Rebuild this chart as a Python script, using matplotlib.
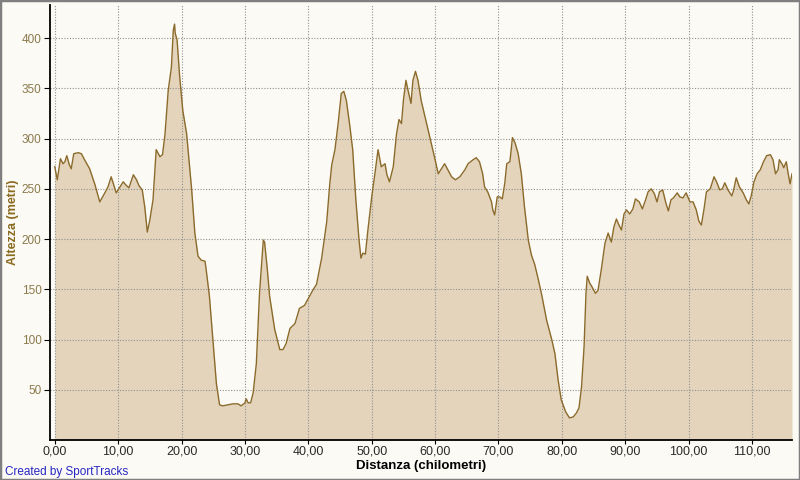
import matplotlib.pyplot as plt
from matplotlib.patches import Rectangle

# %% Data
distance_km = [
    0.0, 0.4, 0.9, 1.3, 1.6, 1.9, 2.3, 2.6, 3.0, 3.7, 4.2, 4.7, 5.5, 6.3, 7.1, 7.9,
    8.4, 8.9, 9.3, 9.7, 10.3, 10.8, 11.2, 11.7, 12.4, 12.9, 13.3, 13.8, 14.2, 14.6,
    15.0, 15.5, 16.0, 16.6, 17.0, 17.4, 17.9, 18.4, 18.7, 18.9, 19.0, 19.3, 19.7,
    20.2, 20.8, 21.3, 21.6, 22.1, 22.6, 23.1, 23.7, 23.9, 24.4, 25.0, 25.5, 26.0,
    26.5, 27.3, 28.1, 28.9, 29.4, 30.0, 30.2, 30.5, 30.9, 31.3, 31.8, 32.3, 32.9,
    33.1, 33.5, 33.9, 34.7, 35.5, 36.0, 36.5, 37.1, 37.9, 38.6, 39.4, 40.0, 40.7,
    41.3, 42.1, 42.9, 43.4, 43.7, 44.2, 44.7, 45.2, 45.6, 46.0, 46.5, 47.0, 47.5,
    48.0, 48.3, 48.6, 49.0, 49.4, 50.0, 50.5, 51.0, 51.5, 52.1, 52.4, 52.8, 53.4,
    53.9, 54.3, 54.7, 55.0, 55.4, 55.7, 56.2, 56.5, 56.9, 57.3, 57.8, 58.4, 58.9,
    59.4, 60.0, 60.5, 61.0, 61.5, 62.0, 62.6, 63.2, 63.9, 64.7, 65.2, 66.0, 66.5,
    67.0, 67.5, 67.8, 68.3, 68.9, 69.1, 69.4, 69.8, 70.2, 70.6, 71.0, 71.3, 71.8,
    72.2, 72.6, 73.1, 73.6, 74.1, 74.7, 75.2, 75.7, 76.2, 76.8, 77.6, 78.4, 78.9,
    79.4, 79.9, 80.6, 81.2, 81.8, 82.3, 82.7, 83.1, 83.5, 83.8, 84.0, 84.4, 84.7,
    85.3, 85.7, 86.2, 86.8, 87.3, 87.8, 88.2, 88.6, 89.0, 89.4, 89.8, 90.2, 90.7,
    91.2, 91.6, 92.2, 92.7, 93.2, 93.6, 94.1, 94.6, 95.0, 95.4, 95.9, 96.4, 96.8,
    97.2, 97.6, 98.2, 98.6, 99.1, 99.6, 100.2, 100.7, 101.2, 101.6, 102.0, 102.4,
    102.8, 103.4, 104.0, 104.4, 104.9, 105.3, 105.7, 106.2, 106.8, 107.1, 107.5,
    108.0, 108.6, 109.1, 109.5, 109.9, 110.3, 110.8, 111.3, 111.8, 112.3, 112.9,
    113.3, 113.7, 114.1, 114.3, 114.8, 115.0, 115.4, 115.7, 116.0, 116.3,
]
altitude_m = [
    272, 259, 280, 275, 277, 283, 274, 270, 285, 286, 285, 279, 270, 255, 237, 246,
    252, 262, 254, 246, 252, 257, 254, 251, 264, 259, 253, 249, 232, 207,
    219, 239, 289, 282, 284, 305, 348, 371, 408, 414, 405, 398, 362,
    328, 305, 270, 249, 206, 183, 179, 178, 169, 143, 96, 56, 35,
    34, 35, 36, 36, 34, 37, 41, 37, 37, 47, 76, 146, 199,
    197, 172, 143, 110, 90, 90, 96, 111, 116, 131, 134, 141, 149,
    155, 181, 217, 256, 274, 289, 315, 345, 347, 338, 315, 289, 239,
    199, 181, 186, 185, 209, 242, 265, 289, 272, 275, 264, 257, 272,
    304, 319, 315, 338, 358, 349, 335, 358, 367, 358, 338, 322, 309,
    295, 279, 265, 270, 275, 269, 262, 259, 262, 269, 275, 279, 281,
    277, 265, 252, 247, 237, 229, 224, 242, 242, 240, 256, 275, 277,
    301, 296, 285, 265, 232, 199, 184, 175, 162, 145, 119, 100, 86,
    60, 40, 28, 22, 23, 27, 32, 53, 93, 146, 163, 156, 153,
    146, 149, 169, 196, 206, 197, 212, 220, 214, 209, 225, 229, 225,
    230, 240, 237, 230, 239, 247, 250, 245, 237, 247, 249, 236, 228,
    239, 241, 246, 242, 241, 246, 237, 237, 229, 218, 214, 229,
    247, 250, 262, 257, 249, 250, 256, 249, 243, 249, 261,
    252, 246, 239, 235, 244, 257, 265, 269, 277, 283, 284,
    279, 265, 269, 279, 274, 271, 277, 265, 255, 265,
]
x_ticks = [0, 10, 20, 30, 40, 50, 60, 70, 80, 90, 100, 110]
x_tick_labels = ["0,00", "10,00", "20,00", "30,00", "40,00", "50,00",
                 "60,00", "70,00", "80,00", "90,00", "100,00", "110,00"]
y_ticks = [50, 100, 150, 200, 250, 300, 350, 400]

# %% Plot
plt.rcParams["font.family"] = ["Liberation Sans", "DejaVu Sans"]
bg = "#fbfaf5"

fig = plt.figure(figsize=(8, 4.8), dpi=100, facecolor=bg)
ax = fig.add_axes([50 / 800, 40 / 480, 742 / 800, 435 / 480])
ax.set_facecolor(bg)

ax.fill_between(distance_km, altitude_m, 0, color="#e3d4bb", linewidth=0, zorder=1)
ax.plot(distance_km, altitude_m, color="#8b6a2b", linewidth=1.0, zorder=3)

ax.set_xlim(-0.75, 116.3)
ax.set_ylim(0, 433)
ax.set_xticks(x_ticks)
ax.set_xticklabels(x_tick_labels)
ax.set_yticks(y_ticks)

ax.grid(True, color="#909090", linestyle=(0, (1, 1.5)), linewidth=0.8, zorder=2)
ax.set_axisbelow(False)

for side in ["top", "right"]:
    ax.spines[side].set_visible(False)
for side in ["left", "bottom"]:
    ax.spines[side].set_color("black")
    ax.spines[side].set_linewidth(1.3)
    ax.spines[side].set_zorder(4)

ax.tick_params(axis="x", length=3, width=0.8, colors="black", labelcolor="#2a2a2a",
               labelsize=9, pad=1)
ax.tick_params(axis="y", length=4, width=0.8, colors="black", labelcolor="#8c7a4c",
               labelsize=8.5, pad=2)

ax.set_xlabel("Distanza (chilometri)", fontsize=9.5, fontweight="bold", color="black", labelpad=2)
ax.set_ylabel("Altezza (metri)", fontsize=9, fontweight="bold", color="#8a6a1f", labelpad=2)

fig.text(5 / 800, 1 - 472 / 480, "Created by SportTracks", color="#2727c4", fontsize=8.5,
         va="center", ha="left")

# window-like border
fig.patches.append(Rectangle((0, 0), 1, 1, transform=fig.transFigure, fill=False,
                             edgecolor="#7f7f7f", linewidth=2.5, zorder=10))

fig.savefig("out.png", dpi=100, facecolor=bg)
